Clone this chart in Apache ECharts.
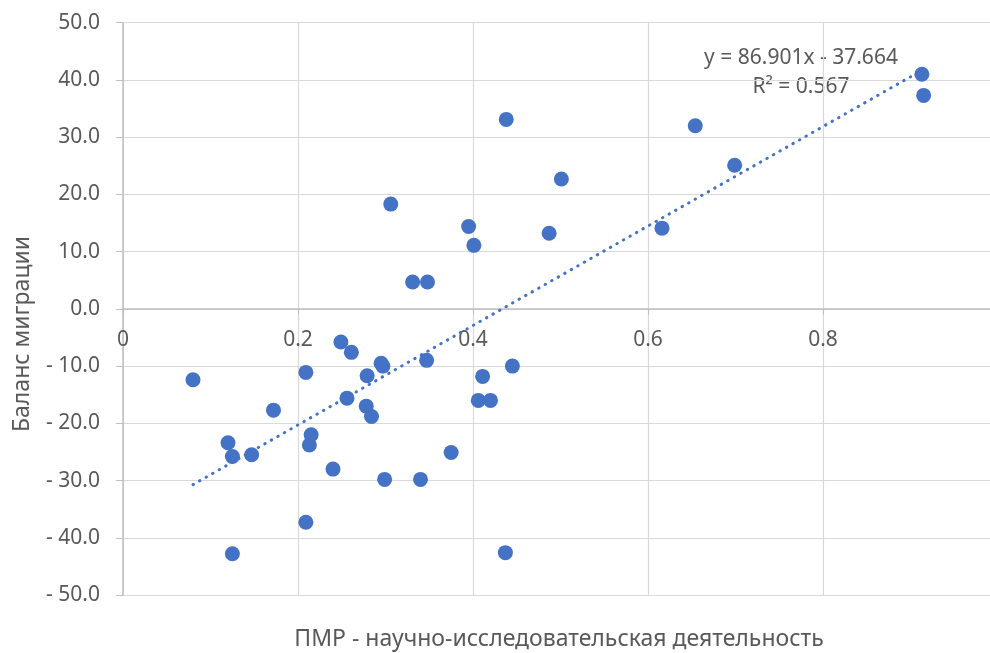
<!DOCTYPE html>
<html><head><meta charset="utf-8">
<script src="https://cdn.jsdelivr.net/npm/echarts@6/dist/echarts.min.js"></script>
<style>html,body{margin:0;padding:0;background:#fff;overflow:hidden;width:990px;height:653px}#c{width:998px;height:653px}</style>
</head><body><div id="c"></div>
<script>
var xValues = [0.080,0.120,0.125,0.125,0.147,0.172,0.209,0.213,0.215,0.209,0.240,
  0.249,0.261,0.295,0.297,0.279,0.256,0.278,0.284,0.347,0.299,0.340,0.375,0.411,0.445,0.406,0.420,0.437,
  0.438,0.501,0.306,0.395,0.487,0.401,0.331,0.348,
  0.654,0.699,0.616,0.913,0.915];
var yValues = [-12.4,-23.4,-25.8,-42.8,-25.5,-17.7,-11.1,-23.8,-22.0,-37.3,-28.0,
  -5.8,-7.6,-9.5,-10.0,-11.7,-15.6,-17.0,-18.8,-9.0,-29.8,-29.8,-25.1,-11.8,-10.0,-16.0,-16.0,-42.6,
  33.1,22.7,18.3,14.4,13.2,11.1,4.7,4.7,
  32.0,25.1,14.1,41.0,37.3];
var trendSlope = 86.901, trendIntercept = -37.664;
var trendText = ['y = 86.901x - 37.664', 'R² = 0.567'];
var xTitle = 'ПМР - научно-исследовательская деятельность';
var yTitle = 'Баланс миграции';

var pts = xValues.map(function(x,i){return [x, yValues[i]];});
var xmin = Math.min.apply(null, xValues), xmax = Math.max.apply(null, xValues);
var trend = [[xmin, trendSlope*xmin+trendIntercept],[xmax, trendSlope*xmax+trendIntercept]];
var FONT = 'Noto Sans';
var GRID_TOP = 22.7, GRID_BOTTOM = 58, H = 653;
var plotH = H - GRID_TOP - GRID_BOTTOM;
var zeroOffset = -plotH / 2; // y range is symmetric (-50..50): move x axis to y = 0
var chart = echarts.init(document.getElementById('c'));
chart.setOption({
  animation:false,
  backgroundColor:'#fff',
  grid:{left:123, right:0, top:GRID_TOP, bottom:GRID_BOTTOM, outerBoundsMode:'none', containLabel:false},
  xAxis:{type:'value', min:0, max:1, interval:0.2, position:'bottom', offset:zeroOffset,
    axisLine:{onZero:false, lineStyle:{color:'#bfbfbf', width:1.5}},
    axisTick:{show:true, inside:false, length:6, lineStyle:{color:'#bfbfbf'}},
    axisLabel:{color:'#595959', fontSize:21, fontFamily:FONT, margin:21,
      formatter:function(v){return v===0?'0':String(Math.round(v*10)/10);}},
    splitLine:{show:true, lineStyle:{color:'#d9d9d9', width:1.2}}},
  yAxis:{type:'value', min:-50, max:50, interval:10,
    axisLine:{show:true, onZero:false, lineStyle:{color:'#bfbfbf', width:1.5}},
    axisTick:{show:true, length:7, lineStyle:{color:'#bfbfbf'}},
    axisLabel:{color:'#595959', fontSize:21, fontFamily:FONT, margin:23,
      formatter:function(v){return v<0 ? '- '+Math.abs(v).toFixed(1) : v.toFixed(1);}},
    splitLine:{show:true, lineStyle:{color:'#d9d9d9', width:1.2}}},
  graphic:[
    {type:'text', x:559, y:639, style:{text:xTitle, fill:'#595959', font:'23px "Noto Sans"', align:'center', verticalAlign:'middle'}},
    {type:'text', x:22, y:334, rotation:Math.PI/2, style:{text:yTitle, fill:'#595959', font:'23px "Noto Sans"', align:'center', verticalAlign:'middle'}},
    {type:'text', x:801, y:58, style:{text:trendText[0], fill:'#595959', font:'21px "Noto Sans"', align:'center', verticalAlign:'middle'}},
    {type:'text', x:801, y:87, style:{text:trendText[1], fill:'#595959', font:'21px "Noto Sans"', align:'center', verticalAlign:'middle'}}
  ],
  series:[
    {type:'scatter', data:pts, symbolSize:15, itemStyle:{color:'#4472C4', opacity:1}, z:2},
    {type:'line', data:trend, showSymbol:false, symbol:'none', z:3,
      lineStyle:{color:'#4472C4', width:3, type:[0.5,7], cap:'round'}}
  ]
});
</script></body></html>
